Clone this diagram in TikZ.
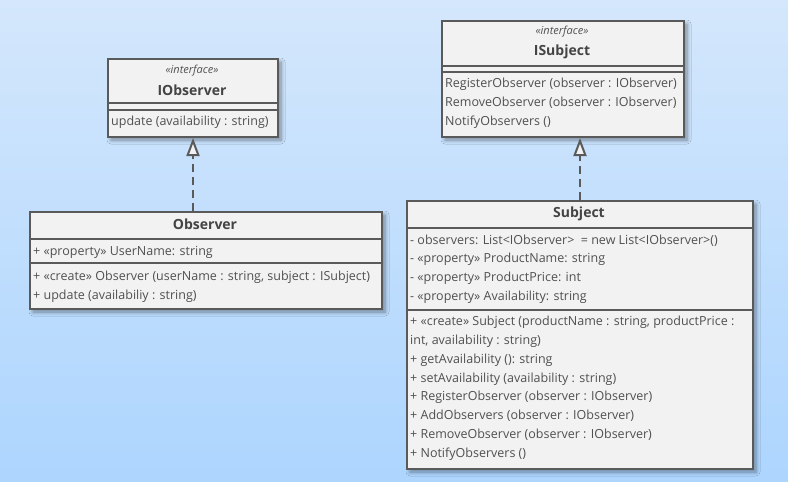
\documentclass[tikz,border=0pt]{standalone}
\usepackage{fontspec}
\setmainfont{Open Sans}
\usetikzlibrary{arrows.meta,shadows.blur}

\definecolor{bgtop}{HTML}{D4E7FC}
\definecolor{bgbottom}{HTML}{ADD5FE}
\definecolor{boxfill}{HTML}{F2F2F2}
\definecolor{boxline}{HTML}{5A5A5A}
\definecolor{umltext}{HTML}{505050}

\tikzset{
    classbox/.style={rectangle, draw=boxline, fill=boxfill, line width=2pt,
        anchor=north west, inner sep=0pt,
        blur shadow={shadow xshift=3pt, shadow yshift=-3pt, shadow blur radius=4pt, shadow blur steps=6}},
    sepline/.style={draw=boxline, line width=2pt},
    stereo/.style={font=\fontsize{11}{12}\selectfont\itshape, text=umltext, inner sep=0pt},
    classname/.style={font=\fontsize{14}{16}\selectfont\bfseries, text=umltext!85!black, inner sep=0pt},
    member/.style={font=\fontsize{12.5}{14}\selectfont, text=umltext, inner sep=0pt,
        anchor=west, text height=9pt, text depth=3pt},
    realizes/.style={draw=boxline, line width=2pt, dash pattern=on 8pt off 5pt,
        -{Triangle[length=18pt, width=13pt, fill=boxfill, line width=2pt]}}
}

\begin{document}
\begin{tikzpicture}[x=1pt, y=-1pt]
    \useasboundingbox (0,0) rectangle (788,482);
    \shade[top color=bgtop, bottom color=bgbottom] (0,0) rectangle (788,482);

    \begin{scope}[shift={(107,58)}]
        \node[classbox, minimum width=170pt, minimum height=78pt] (iobserver) at (0,0) {};
        \node[stereo] (iobserverStereo) at (85,13) {«interface»};
        \node[classname] (iobserverName) at (85,32) {IObserver};
        \draw[sepline] (0,45) -- (170,45);
        \draw[sepline] (0,52) -- (170,52);
        \node[member] (iobserverOp1) at (4,64) {update (availability : string)};
    \end{scope}

    \begin{scope}[shift={(29,211)}]
        \node[classbox, minimum width=352pt, minimum height=97pt] (observer) at (0,0) {};
        \node[classname] (observerName) at (176,13) {Observer};
        \draw[sepline] (0,28) -- (352,28);
        \node[member] (observerAttr1) at (4,41) {+ «property» UserName: string};
        \draw[sepline] (0,52) -- (352,52);
        \node[member] (observerOp1) at (4,66) {+ «create» Observer (userName : string, subject : ISubject)};
        \node[member] (observerOp2) at (4,85) {+ update (availabiliy : string)};
    \end{scope}

    \begin{scope}[shift={(441,20)}]
        \node[classbox, minimum width=242pt, minimum height=116pt] (isubject) at (0,0) {};
        \node[stereo] (isubjectStereo) at (121,12) {«interface»};
        \node[classname] (isubjectName) at (121,32) {ISubject};
        \draw[sepline] (0,46) -- (242,46);
        \draw[sepline] (0,52) -- (242,52);
        \foreach \txt [count=\i] in {RegisterObserver (observer : IObserver),
                RemoveObserver (observer : IObserver), NotifyObservers ()} {
            \node[member] (isubjectOp\i) at (4,{64+19.3*(\i-1)}) {\txt};
        }
    \end{scope}

    \begin{scope}[shift={(406,200)}]
        \node[classbox, minimum width=346pt, minimum height=268pt] (subject) at (0,0) {};
        \node[classname] (subjectName) at (173,14) {Subject};
        \draw[sepline] (0,28) -- (346,28);
        \foreach \txt [count=\i] in {- observers: List<IObserver>\ \ = new List<IObserver>(),
                - «property» ProductName: string, - «property» ProductPrice: int,
                - «property» Availability: string} {
            \node[member] (subjectAttr\i) at (4,{41+18.7*(\i-1)}) {\txt};
        }
        \draw[sepline] (0,110) -- (346,110);
        \foreach \txt [count=\i] in {{+ «create» Subject (productName : string, productPrice :},
                {int, availability : string)}, + getAvailability (): string,
                + setAvailability (availability : string),
                + RegisterObserver (observer : IObserver),
                + AddObservers (observer : IObserver),
                + RemoveObserver (observer : IObserver), + NotifyObservers ()} {
            \node[member] (subjectOp\i) at (4,{122.7+18.8*(\i-1)}) {\txt};
        }
    \end{scope}

    \draw[realizes] (observer.north -| iobserver.south) -- (iobserver.south);
    \draw[realizes] (subject.north) -- (subject.north |- isubject.south);

\end{tikzpicture}
\end{document}
